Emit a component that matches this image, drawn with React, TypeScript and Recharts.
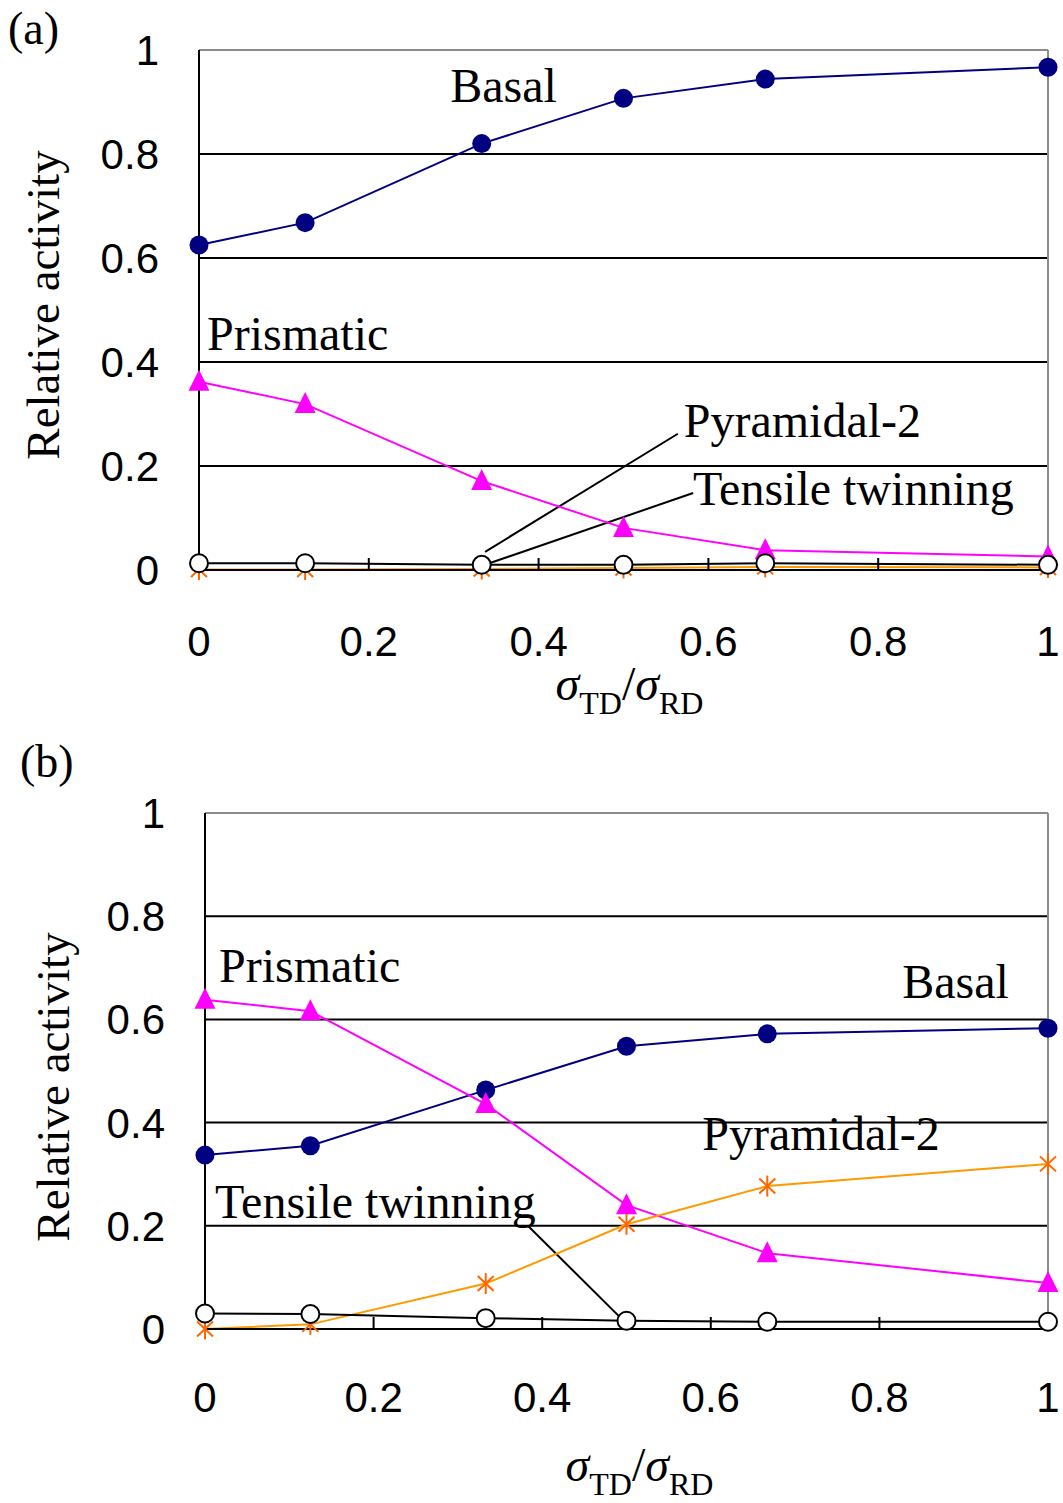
import { LineChart, Line, XAxis, YAxis, ReferenceLine, ReferenceDot } from "recharts";

// shared axis values
const xValues = [0, 0.125, 0.333, 0.5, 0.667, 1];
const xTicks = [0, 0.2, 0.4, 0.6, 0.8, 1];
const xTickLabels = ["0", "0.2", "0.4", "0.6", "0.8", "1"];
const yTicks = [0, 0.2, 0.4, 0.6, 0.8, 1];
const yTickLabels = ["0", "0.2", "0.4", "0.6", "0.8", "1"];
const gridValues = [0.2, 0.4, 0.6, 0.8];

// panel (a)
const basalA = [0.625, 0.668, 0.82, 0.907, 0.944, 0.967];
const prismaticA = [0.362, 0.319, 0.171, 0.081, 0.038, 0.026];
const pyramidalA = [0.001, 0.001, 0.002, 0.004, 0.006, 0.005];
const tensileA = [0.013, 0.013, 0.01, 0.01, 0.013, 0.01];

// panel (b)
const basalB = [0.337, 0.355, 0.463, 0.548, 0.572, 0.583];
const prismaticB = [0.638, 0.616, 0.436, 0.24, 0.147, 0.089];
const pyramidalB = [0.0, 0.009, 0.088, 0.203, 0.277, 0.32];
const tensileB = [0.03, 0.029, 0.021, 0.016, 0.014, 0.014];

const buildRows = (basal: number[], prismatic: number[], pyramidal: number[], tensile: number[]) =>
  xValues.map((x, i) => ({
    x,
    basal: basal[i],
    prismatic: prismatic[i],
    pyramidal: pyramidal[i],
    tensile: tensile[i],
  }));

const SERIF = "'Liberation Serif', 'Times New Roman', serif";
const SANS = "'Liberation Sans', Arial, sans-serif";
const TEXT_SIZE = 48;
const TICK_SIZE = 42;

// markers
const blueDot = (p: any) => (
  <circle key={`b-${p.index}`} cx={p.cx} cy={p.cy} r={9.5} fill="#000080" />
);
const triangleDot = (p: any) => (
  <polygon
    key={`t-${p.index}`}
    points={`${p.cx},${p.cy - 12} ${p.cx - 10.5},${p.cy + 9} ${p.cx + 10.5},${p.cy + 9}`}
    fill="#FF00FF"
  />
);
const starDot = (p: any) => {
  const s = 10.5;
  const dx = 8;
  const dy = 7.5;
  return (
    <g key={`s-${p.index}`} stroke="#FF6600" strokeWidth={2}>
      <line x1={p.cx} y1={p.cy - s} x2={p.cx} y2={p.cy + s} />
      <line x1={p.cx - dx} y1={p.cy - dy} x2={p.cx + dx} y2={p.cy + dy} />
      <line x1={p.cx - dx} y1={p.cy + dy} x2={p.cx + dx} y2={p.cy - dy} />
    </g>
  );
};
const openDot = (p: any) => (
  <circle key={`o-${p.index}`} cx={p.cx} cy={p.cy} r={9} fill="#fff" stroke="#000" strokeWidth={2} />
);

interface Note {
  text: string;
  x: number;
  y: number;
}

interface PanelProps {
  tag: string;
  top: number;
  height: number;
  marginTop: number;
  axisWidth: number;
  xAxisHeight: number;
  rows: any[];
  notes: Note[];
  leaders: number[][];
  tickDy: number;
  xTitleDx: number;
  xTitleDy: number;
  yTitleX: number;
  yTitleDy: number;
  tagX: number;
  tagY: number;
}

const Panel = (props: PanelProps) => {
  const XTick = (p: any) => {
    const v = p.payload.value;
    return (
      <g>
        {v > 0 && v < 1 && (
          <line x1={p.x} x2={p.x} y1={p.y} y2={p.y - 12} stroke="#000" strokeWidth={2} />
        )}
        <text x={p.x} y={p.y + props.tickDy} textAnchor="middle" fontFamily={SANS} fontSize={TICK_SIZE} fill="#000">
          {xTickLabels[xTicks.indexOf(v)]}
        </text>
      </g>
    );
  };

  const xTitle = (p: any) => {
    const vb = p.viewBox;
    const cx = vb.x + vb.width / 2 + props.xTitleDx;
    const by = vb.y + props.xTitleDy;
    return (
      <text x={cx} y={by} textAnchor="middle" fontFamily={SERIF} fontSize={TEXT_SIZE} fill="#000">
        <tspan fontStyle="italic">σ</tspan>
        <tspan fontSize={32} dy={14}>TD</tspan>
        <tspan dy={-14}>/</tspan>
        <tspan fontStyle="italic">σ</tspan>
        <tspan fontSize={32} dy={14}>RD</tspan>
      </text>
    );
  };

  const yTitle = (p: any) => {
    const vb = p.viewBox;
    const cy = vb.y + vb.height / 2 + props.yTitleDy;
    return (
      <g>
        <text
          x={props.yTitleX}
          y={cy}
          transform={`rotate(-90, ${props.yTitleX}, ${cy})`}
          textAnchor="middle"
          fontFamily={SERIF}
          fontSize={47}
          fill="#000"
        >
          Relative activity
        </text>
        <text x={props.tagX} y={props.tagY} fontFamily={SERIF} fontSize={46} fill="#000">
          {props.tag}
        </text>
      </g>
    );
  };

  const noteLabel = (text: string) => (p: any) => (
    <text x={p.viewBox.x} y={p.viewBox.y} fontFamily={SERIF} fontSize={TEXT_SIZE} fill="#000">
      {text}
    </text>
  );

  return (
    <div style={{ position: "absolute", left: 0, top: props.top }}>
      <LineChart
        width={1063}
        height={props.height}
        data={props.rows}
        margin={{ top: props.marginTop, right: 15, left: 0, bottom: 0 }}
      >
        <XAxis
          dataKey="x"
          type="number"
          domain={[0, 1]}
          ticks={xTicks}
          interval={0}
          height={props.xAxisHeight}
          tickLine={false}
          tickSize={0}
          tickMargin={0}
          tick={(p: any) => <XTick {...p} />}
          axisLine={{ stroke: "#000", strokeWidth: 2 }}
          label={xTitle}
        />
        <YAxis
          type="number"
          domain={[0, 1]}
          ticks={yTicks}
          interval={0}
          width={props.axisWidth}
          tickLine={false}
          tickSize={0}
          tickMargin={40}
          tick={{ fontFamily: SANS, fontSize: TICK_SIZE, fill: "#000" }}
          tickFormatter={(v: number) => yTickLabels[yTicks.indexOf(v)]}
          axisLine={{ stroke: "#000", strokeWidth: 2 }}
          label={yTitle}
        />
        {gridValues.map((g) => (
          <ReferenceLine key={`g-${g}`} y={g} stroke="#000" strokeWidth={2} />
        ))}
        <ReferenceLine y={1} stroke="#8c8c8c" strokeWidth={2} />
        <ReferenceLine x={1} stroke="#8c8c8c" strokeWidth={2} />
        {props.leaders.map((l, i) => (
          <ReferenceLine
            key={`l-${i}`}
            segment={[
              { x: l[0], y: l[1] },
              { x: l[2], y: l[3] },
            ]}
            stroke="#000"
            strokeWidth={2}
          />
        ))}
        <Line
          dataKey="basal"
          type="linear"
          stroke="#000080"
          strokeWidth={2}
          dot={blueDot}
          activeDot={false}
          isAnimationActive={false}
        />
        <Line
          dataKey="prismatic"
          type="linear"
          stroke="#FF00FF"
          strokeWidth={2}
          dot={triangleDot}
          activeDot={false}
          isAnimationActive={false}
        />
        <Line
          dataKey="pyramidal"
          type="linear"
          stroke="#FF9900"
          strokeWidth={2}
          dot={starDot}
          activeDot={false}
          isAnimationActive={false}
        />
        <Line
          dataKey="tensile"
          type="linear"
          stroke="#000"
          strokeWidth={2}
          dot={openDot}
          activeDot={false}
          isAnimationActive={false}
        />
        {props.notes.map((n) => (
          <ReferenceDot
            key={n.text}
            x={n.x}
            y={n.y}
            r={0}
            fill="none"
            stroke="none"
            label={noteLabel(n.text)}
          />
        ))}
      </LineChart>
    </div>
  );
};

const App = () => {
  return (
    <div style={{ position: "absolute", left: 0, top: 0, width: 1063, height: 1503, background: "#fff" }}>
      <Panel
        tag="(a)"
        top={0}
        height={745}
        marginTop={50}
        axisWidth={199}
        xAxisHeight={175}
        rows={buildRows(basalA, prismaticA, pyramidalA, tensileA)}
        notes={[
          { text: "Basal", x: 0.296, y: 0.9 },
          { text: "Prismatic", x: 0.0094, y: 0.423 },
          { text: "Pyramidal-2", x: 0.571, y: 0.256 },
          { text: "Tensile twinning", x: 0.582, y: 0.125 },
        ]}
        leaders={[
          [0.564, 0.262, 0.337, 0.035],
          [0.582, 0.148, 0.342, 0.013],
        ]}
        tickDy={86}
        xTitleDx={6}
        xTitleDy={130}
        yTitleX={59}
        yTitleDy={-5}
        tagX={8}
        tagY={44}
      />
      <Panel
        tag="(b)"
        top={735}
        height={768}
        marginTop={78}
        axisWidth={205}
        xAxisHeight={174}
        rows={buildRows(basalB, prismaticB, pyramidalB, tensileB)}
        notes={[
          { text: "Prismatic", x: 0.0166, y: 0.672 },
          { text: "Basal", x: 0.827, y: 0.641 },
          { text: "Pyramidal-2", x: 0.59, y: 0.347 },
          { text: "Tensile twinning", x: 0.012, y: 0.215 },
        ]}
        leaders={[[0.383, 0.2, 0.491, 0.025]]}
        tickDy={83}
        xTitleDx={13}
        xTitleDy={152}
        yTitleX={69}
        yTitleDy={16}
        tagX={20}
        tagY={42}
      />
    </div>
  );
};

export default App;
